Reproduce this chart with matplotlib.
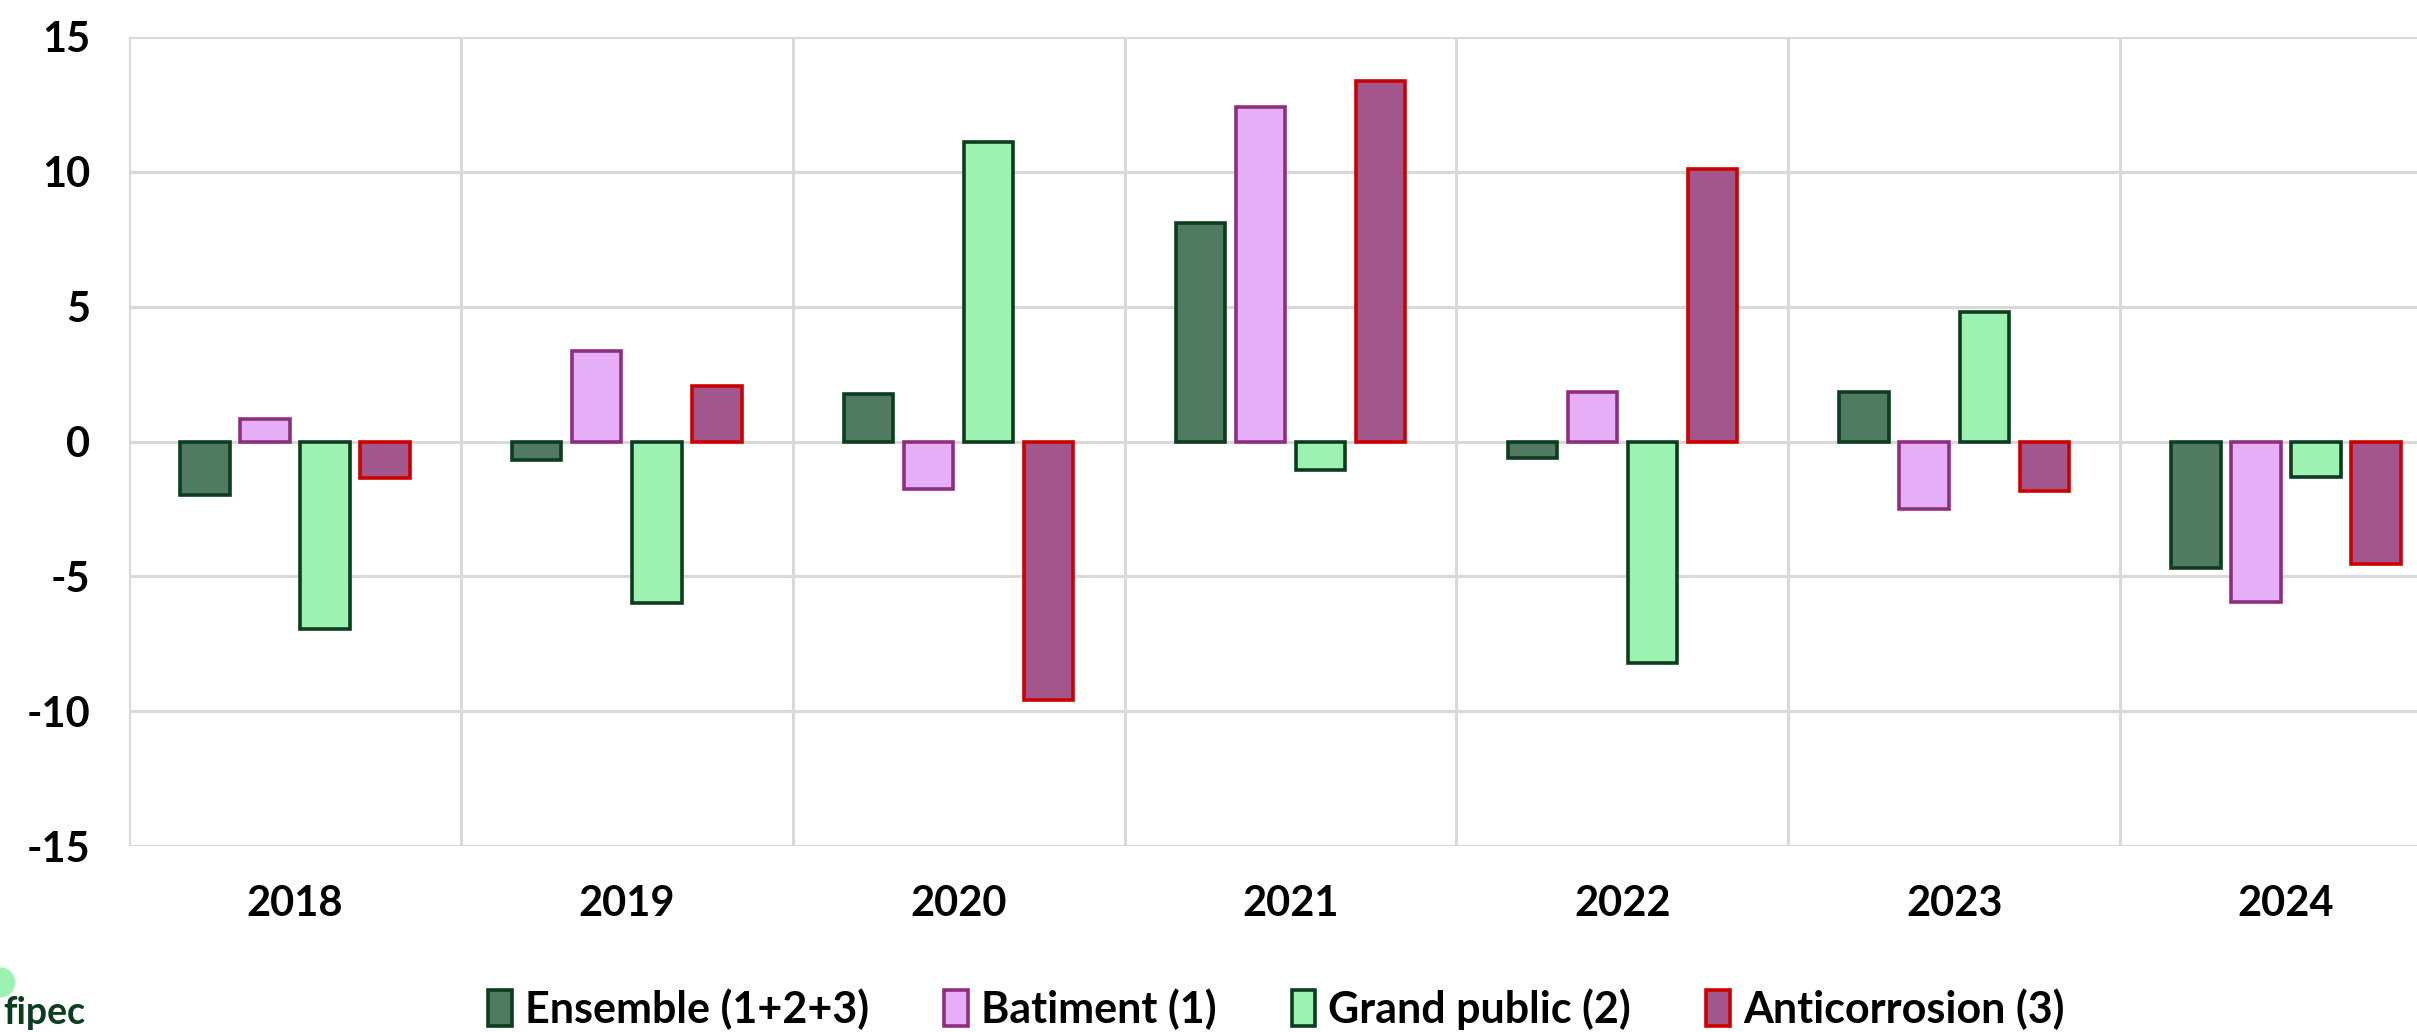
import matplotlib
matplotlib.use("Agg")
import matplotlib.pyplot as plt
from matplotlib.patches import Ellipse
import numpy as np

years = ["2018", "2019", "2020", "2021", "2022", "2023", "2024"]
series_names = ["Ensemble (1+2+3)", "Batiment (1)", "Grand public (2)", "Anticorrosion (3)"]
ensemble = [-2.0, -0.7, 1.75, 8.1, -0.6, 1.85, -4.7]
batiment = [0.85, 3.35, -1.75, 12.4, 1.85, -2.5, -5.95]
grand_public = [-6.95, -6.0, 11.1, -1.05, -8.2, 4.8, -1.3]
anticorrosion = [-1.35, 2.05, -9.6, 13.35, 10.1, -1.85, -4.55]
y_ticks = [-15, -10, -5, 0, 5, 10, 15]

fills = ["#517a62", "#e6aef7", "#9df2b2", "#a3568c"]
edges = ["#0b3d1e", "#8e2e7d", "#0b3d1e", "#cc0000"]

plt.rcParams['font.family'] = ['Lato', 'DejaVu Sans']
plt.rcParams['font.weight'] = 'bold'

fig = plt.figure(figsize=(24.17, 10.32), dpi=100)
ax = fig.add_axes([129/2417, 186/1032, 2323/2417, 809/1032])

x = np.arange(len(years))
step = 0.181
width = 0.149
all_series = [ensemble, batiment, grand_public, anticorrosion]
for i, (vals, name) in enumerate(zip(all_series, series_names)):
    ax.bar(x + (i - 1.5) * step, vals, width=width, color=fills[i],
           edgecolor=edges[i], linewidth=2.6, label=name, zorder=3)

ax.set_xlim(-0.5, len(years) - 0.5)
ax.set_ylim(-15, 15)
ax.set_yticks(y_ticks)
ax.set_yticklabels([str(v) for v in y_ticks])
ax.set_xticks(x)
ax.set_xticklabels(years)
ax.set_xticks(np.arange(-0.5, len(years)), minor=True)
ax.grid(True, axis='y', which='major', color='#d9d9d9', linewidth=2.2, zorder=0)
ax.grid(True, axis='x', which='minor', color='#d9d9d9', linewidth=2.2, zorder=0)
ax.grid(False, axis='x', which='major')
for s in ax.spines.values():
    s.set_visible(False)
ax.tick_params(axis='both', which='both', length=0)
ax.tick_params(axis='y', labelsize=30, pad=28)
ax.tick_params(axis='x', labelsize=30, pad=28)
for lbl in ax.get_xticklabels() + ax.get_yticklabels():
    lbl.set_fontweight('bold')

leg = fig.legend(loc='center', bbox_to_anchor=(0.528, 0.022), ncol=4, frameon=False,
                 handlelength=0.55, handleheight=0.9, handletextpad=0.3,
                 columnspacing=1.75, prop={'weight': 'bold', 'size': 31})

# logo fragment
fig.patches.append(Ellipse((0.0, 0.048), 0.012, 0.028, transform=fig.transFigure,
                           color='#9df2b2', zorder=0))
fig.text(0.0015, 0.008, "fipec", fontsize=27, color='#0b3d1e', fontweight='bold',
         ha='left', va='baseline')

fig.savefig("out.png", dpi=100)
